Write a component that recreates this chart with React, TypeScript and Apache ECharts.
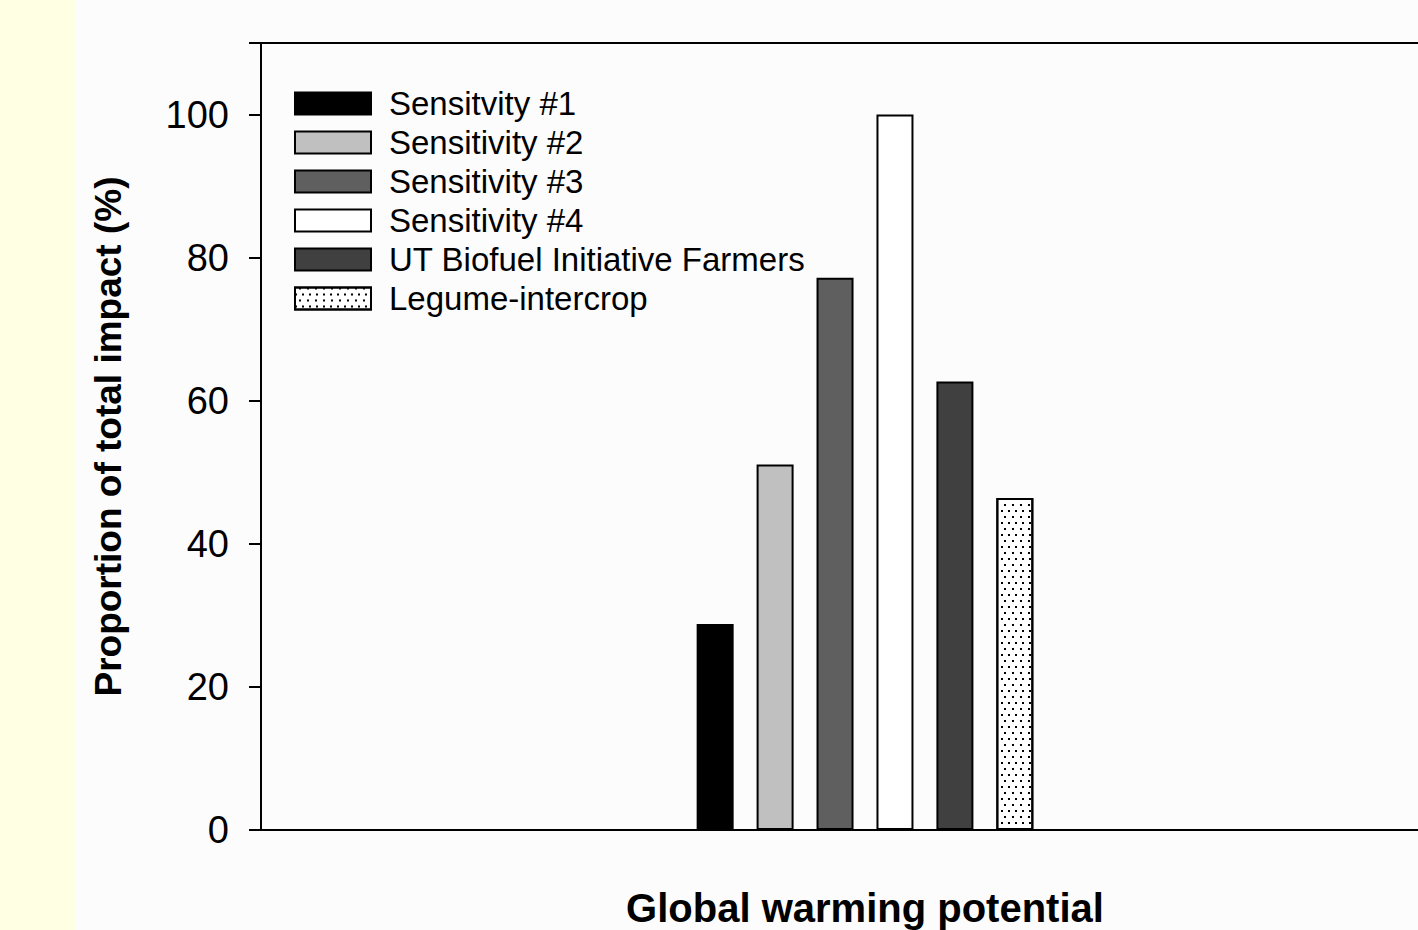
import React, { useEffect, useRef } from "react";
import * as echarts from "echarts";

const categories = ["Global warming potential"];
const seriesNames = [
  "Sensitvity #1",
  "Sensitivity #2",
  "Sensitivity #3",
  "Sensitivity #4",
  "UT Biofuel Initiative Farmers",
  "Legume-intercrop",
];
const seriesValues = [28.8, 51.1, 77.2, 100, 62.7, 46.4];
const seriesColors = ["#000000", "#c0c0c0", "#5f5f5f", "#ffffff", "#404040", "#ffffff"];
const yTicks = [0, 20, 40, 60, 80, 100];

export default function App() {
  const ref = useRef<HTMLDivElement>(null);
  useEffect(() => {
    if (!ref.current) return;
    const chart = echarts.init(ref.current, undefined, { renderer: "svg" });
    const font = "'Liberation Sans', Arial, sans-serif";
    const series = seriesNames.map((name, i) => ({
      name,
      type: "bar",
      data: [seriesValues[i]],
      barWidth: 37,
      barGap: "62%",
      itemStyle: {
        color: seriesColors[i],
        borderColor: "#000",
        borderWidth: 2,
        ...(i === 5
          ? {
              decal: {
                symbol: "rect",
                symbolSize: 1,
                color: "#000",
                backgroundColor: "#fff",
                dashArrayX: [[2, 5], [0, 3.5, 2, 1.5]],
                dashArrayY: [2, 4],
                rotation: 0,
              },
            }
          : {}),
      },
    }));
    chart.setOption({
      animation: false,
      backgroundColor: "#fcfcfc",
      textStyle: { fontFamily: font },
      graphic: [
        { type: "rect", left: 0, top: 0, shape: { width: 75, height: 930 }, style: { fill: "#ffffe3" }, z: -10 },
      ],
      grid: {
        left: 261,
        top: 43,
        width: 1208,
        height: 787,
        outerBoundsMode: "none",
        containLabel: false,
        show: true,
        borderColor: "#000",
        borderWidth: 2,
        backgroundColor: "transparent",
      },
      legend: {
        orient: "vertical",
        left: 294,
        top: 87,
        padding: 0,
        itemWidth: 76,
        itemHeight: 22,
        itemGap: 6,
        icon: "rect",
        textStyle: {
          fontFamily: font,
          fontSize: 33,
          color: "#000",
          padding: [0, 0, 0, 13],
        },
        data: seriesNames,
      },
      xAxis: {
        type: "category",
        data: categories,
        name: categories[0],
        nameLocation: "middle",
        nameGap: 58,
        nameTextStyle: { fontFamily: font, fontSize: 40, fontWeight: "bold", color: "#000" },
        axisLine: { lineStyle: { color: "#000", width: 2 } },
        axisTick: { alignWithLabel: true, length: 12, lineStyle: { color: "#000", width: 2 } },
        axisLabel: { show: false },
      },
      yAxis: {
        type: "value",
        min: 0,
        max: 110,
        interval: 20,
        name: "Proportion of total impact (%)",
        nameLocation: "middle",
        nameGap: 134,
        nameRotate: 90,
        nameTextStyle: { fontFamily: font, fontSize: 37, fontWeight: "bold", color: "#000" },
        axisLine: { show: true, lineStyle: { color: "#000", width: 2 } },
        axisTick: { show: true, length: 12, lineStyle: { color: "#000", width: 2 } },
        axisLabel: {
          fontFamily: font,
          fontSize: 38,
          color: "#000",
          margin: 32,
          formatter: (v: number) => (yTicks.includes(v) ? String(v) : ""),
        },
        splitLine: { show: false },
      },
      series,
    });
    return () => chart.dispose();
  }, []);
  return (
    <div style={{ position: "absolute", left: 0, top: 0, width: 1418, height: 930, overflow: "hidden" }}>
      <div ref={ref} style={{ width: 1480, height: 930 }} />
    </div>
  );
}
